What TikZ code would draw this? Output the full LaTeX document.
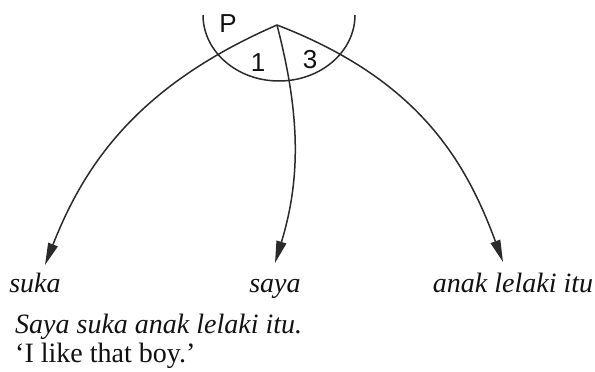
\documentclass[tikz,border=0pt]{standalone}
\usepackage{fontspec}
\setmainfont{Liberation Serif}
\setsansfont{Liberation Sans}
\usetikzlibrary{arrows.meta}
\definecolor{ArcGray}{HTML}{2A2A2A}
\definecolor{TextBlack}{HTML}{111111}

\begin{document}
\begin{tikzpicture}[x=1pt,y=1pt,
    arcline/.style={draw=ArcGray,line width=1.5pt},
    arcarrow/.style={arcline,-{Triangle[length=22pt,width=10pt]}},
    reltag/.style={font=\sffamily\fontsize{26}{26}\selectfont,text=TextBlack,inner sep=0pt},
    word/.style={font=\itshape\fontsize{28}{28}\selectfont,text=TextBlack,inner sep=0pt,anchor=base},
    sentence/.style={font=\fontsize{28}{28}\selectfont,text=TextBlack,inner sep=0pt,anchor=base west}]
    \useasboundingbox (0,0) rectangle (595,372);

    % Clause node, arcs and arc tags
    \coordinate (clause) at (277,347);
    \coordinate (suka-end) at (45,107);
    \coordinate (saya-end) at (275,109);
    \coordinate (anak-end) at (503,110);
    \coordinate (sector-left) at (203,357);

    \draw[arcarrow] (clause) .. controls (139,287) and (85,209) .. (suka-end);
    \draw[arcarrow] (clause) .. controls (299,262) and (302,197) .. (saya-end);
    \draw[arcarrow] (clause) .. controls (417,293) and (465,213) .. (anak-end);
    \draw[arcline] (sector-left) arc[start angle=180,end angle=360,x radius=76,y radius=66];

    \node[reltag] (tagP) at (228,348) {P};
    \node[reltag] (tag1) at (258,309) {1};
    \node[reltag] (tag3) at (310,312) {3};

    % Words under the arcs
    \node[word] (suka) at (35,79) {suka};
    \node[word] (saya) at (275,79) {saya};
    \node[word] (anak) at (513,79) {anak lelaki itu};

    % Sentence and gloss
    \node[sentence] (malay) at (15,38) {\itshape Saya suka anak lelaki itu.};
    \node[sentence] (gloss) at (15,9) {‘I like that boy.’};
\end{tikzpicture}
\end{document}
